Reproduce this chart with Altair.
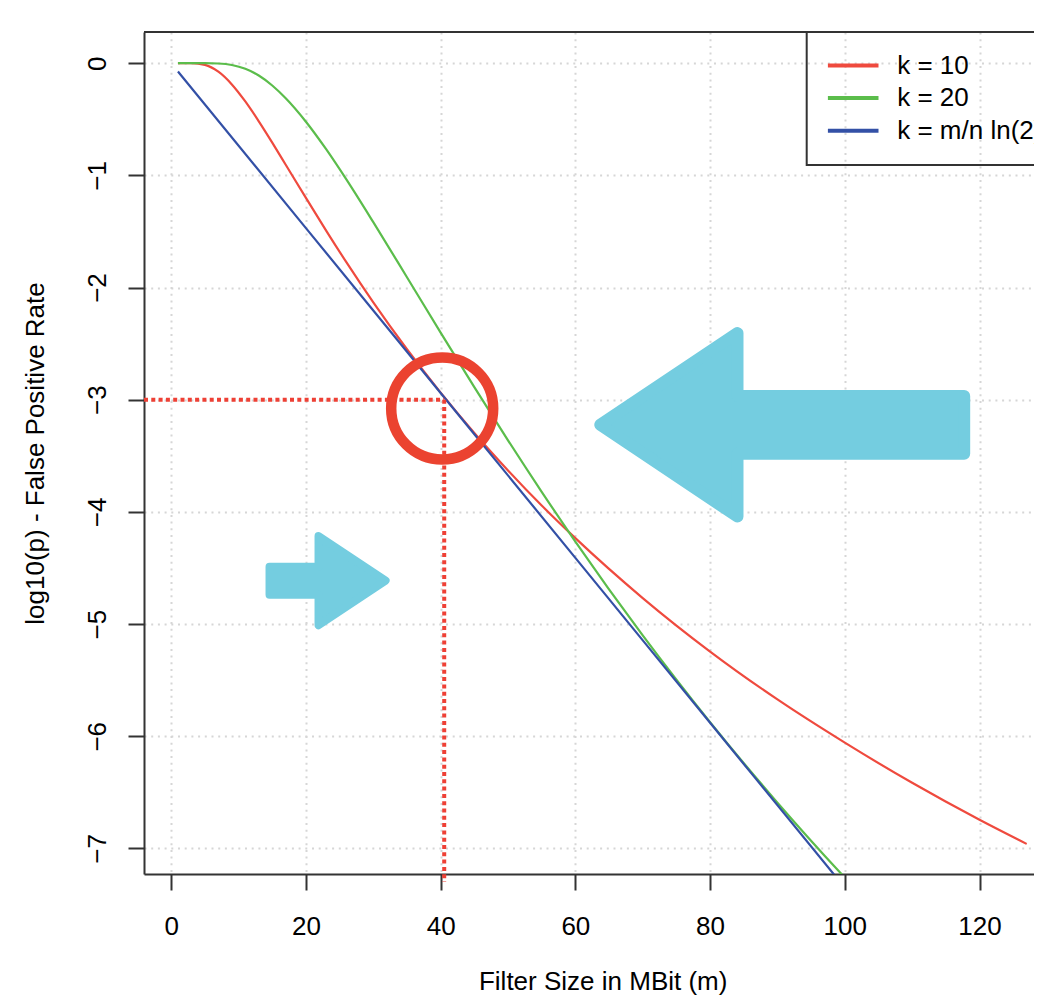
import altair as alt
import numpy as np
import pandas as pd

# ---------------- data ----------------
series_names = ["k = 10", "k = 20", "k = m/n ln(2)"]
series_colors = ["#EF4A3E", "#5BBD4B", "#3350A6"]

red_x = [1, 3, 5, 7, 9, 11, 13, 15, 17, 20, 23, 26, 30, 35, 40, 45, 50, 55, 60, 70, 80, 90, 100, 110, 120, 127]
red_y = [0.0, -0.0003, -0.015, -0.076, -0.189, -0.341, -0.518, -0.708, -0.905, -1.201, -1.492, -1.774,
         -2.132, -2.550, -2.937, -3.296, -3.630, -3.943, -4.234, -4.768, -5.245, -5.672, -6.057, -6.415,
         -6.745, -6.960]

green_x = [1, 3, 5, 7, 9, 11, 13, 15, 17, 20, 23, 26, 30, 35, 40, 45, 50, 55, 60, 70, 80, 90, 100, 105]
green_y = [0.0, 0.0, -0.0001, -0.003, -0.016, -0.050, -0.110, -0.199, -0.313, -0.522, -0.767, -1.036,
           -1.417, -1.908, -2.402, -2.888, -3.362, -3.821, -4.264, -5.100, -5.874, -6.592, -7.260, -7.578]

blue_x = [1, 20, 40, 60, 80, 100, 105]
blue_y = [-0.074, -1.470, -2.940, -4.410, -5.880, -7.350, -7.718]

x_ticks = [0, 20, 40, 60, 80, 100, 120]
y_ticks = [0, -1, -2, -3, -4, -5, -6, -7]
x_domain = [-4.04, 128.09]
y_domain = [-7.228, 0.278]

# annotation (data units)
marker_x, marker_y = 40.53, -3.0
marker_bottom = -7.30
circle_x, circle_y = 40.23, -3.078
big_arrow_x, big_arrow_y = 90.35, -3.224
small_arrow_x, small_arrow_y = 23.46, -4.613

# ---------------- styles ----------------
FONT = "Liberation Sans"
W, H = 890, 842
AXIS_COL = "#333333"
RED_MARK = "#EE4035"
CIRCLE_COL = "#EB4330"
ARROW_COL = "#74CDE0"


def inset_polygon(pts, d):
    pts = np.array(pts, float)
    n = len(pts)
    area = 0.5 * np.sum(pts[:, 0] * np.roll(pts[:, 1], -1) - np.roll(pts[:, 0], -1) * pts[:, 1])
    sign = 1.0 if area > 0 else -1.0
    lines = []
    for i in range(n):
        p, q = pts[i], pts[(i + 1) % n]
        t = (q - p) / np.linalg.norm(q - p)
        nrm = np.array([-t[1], t[0]]) * sign
        lines.append((p + nrm * d, t))
    out = []
    for i in range(n):
        p1, t1 = lines[i - 1]
        p2, t2 = lines[i]
        A = np.array([t1, -t2]).T
        a, _ = np.linalg.solve(A, p2 - p1)
        out.append(p1 + a * t1)
    return out


def to_path(pts):
    return "M" + " L".join(f"{p[0]:.2f},{p[1]:.2f}" for p in pts) + " Z"


big_arrow = [(-190.3, 0), (-36.3, -103), (-36.3, -34.8), (190.4, -34.8),
             (190.4, 34.8), (-36.3, 34.8), (-36.3, 103)]
small_arrow = [(63.6, 0), (-14.7, 52), (-14.7, 18), (-63.7, 18),
               (-63.7, -18), (-14.7, -18), (-14.7, -52)]
BIG_R, SMALL_R = 6, 4
big_path = to_path(inset_polygon(big_arrow, BIG_R))
small_path = to_path(inset_polygon(small_arrow, SMALL_R))

# legend line symbol: 50px long line drawn with a small symbol size (scale = sqrt(484)/2 = 11)
legend_symbol = "M-2.3,0 L2.3,0"

# ---------------- tables ----------------
lines_df = pd.concat([
    pd.DataFrame({"x": red_x, "y": red_y, "series": series_names[0]}),
    pd.DataFrame({"x": green_x, "y": green_y, "series": series_names[1]}),
    pd.DataFrame({"x": blue_x, "y": blue_y, "series": series_names[2]}),
], ignore_index=True)

xs = alt.Scale(domain=x_domain, nice=False, zero=False)
ys = alt.Scale(domain=y_domain, nice=False, zero=False)

x_axis = alt.Axis(
    values=x_ticks, format="d", grid=True, gridDash=[2, 4.7], gridColor="#D6D6D6", gridWidth=2,
    domainColor=AXIS_COL, domainWidth=2, tickColor=AXIS_COL, tickWidth=2, tickSize=16,
    labelFont=FONT, labelFontSize=26, labelColor="black", labelBaseline="alphabetic",
    labelPadding=44, labelFlush=False, labelOverlap=False,
    title="Filter Size in MBit (m)", titleFont=FONT, titleFontSize=26, titleFontWeight="normal",
    titleColor="black", titleX=458.7, titleY=115, titleBaseline="alphabetic", titleAlign="center",
)
y_axis = alt.Axis(
    values=y_ticks, format="d", grid=True, gridDash=[2, 4.7], gridColor="#D6D6D6", gridWidth=2,
    domainColor=AXIS_COL, domainWidth=2, tickColor=AXIS_COL, tickWidth=2, tickSize=16,
    labelFont=FONT, labelFontSize=26, labelColor="black", labelAngle=270, labelAlign="center",
    labelBaseline="alphabetic", labelPadding=23, labelFlush=False, labelOverlap=False,
    title="log10(p) - False Positive Rate", titleFont=FONT, titleFontSize=26,
    titleFontWeight="normal", titleColor="black", titleAngle=270, titleX=-100.7, titleY=421,
    titleBaseline="alphabetic", titleAlign="center",
)

legend = alt.Legend(
    title=None, orient="none", legendX=662.7, legendY=0, padding=20.5, rowPadding=6.6,
    strokeColor=AXIS_COL, symbolType=legend_symbol, symbolSize=484, symbolOffset=13,
    symbolStrokeWidth=4, labelFont=FONT, labelFontSize=26, labelColor="black",
    labelOffset=31, labelLimit=400,
)

curves = alt.Chart(lines_df).mark_line(strokeWidth=2.2, clip=True, interpolate="monotone").encode(
    x=alt.X("x:Q", scale=xs, axis=x_axis),
    y=alt.Y("y:Q", scale=ys, axis=y_axis),
    color=alt.Color("series:N", scale=alt.Scale(domain=series_names, range=series_colors), legend=legend),
    order=alt.Order("x:Q"),
)

h_df = pd.DataFrame({"x": [x_domain[0]], "x2": [marker_x], "y": [marker_y]})
v_df = pd.DataFrame({"x": [marker_x], "y": [marker_y], "y2": [marker_bottom]})

h_line = alt.Chart(h_df).mark_rule(color=RED_MARK, strokeWidth=4, strokeDash=[4, 3.3]).encode(
    x=alt.X("x:Q", scale=xs), x2="x2:Q", y=alt.Y("y:Q", scale=ys))
v_line = alt.Chart(v_df).mark_rule(color=RED_MARK, strokeWidth=4, strokeDash=[4, 3.3], clip=False).encode(
    x=alt.X("x:Q", scale=xs), y=alt.Y("y:Q", scale=ys), y2="y2:Q")

circ_df = pd.DataFrame({"x": [circle_x], "y": [circle_y]})
circle = alt.Chart(circ_df).mark_point(
    shape="circle", filled=False, size=10404, strokeWidth=10.5, color=CIRCLE_COL, opacity=1
).encode(x=alt.X("x:Q", scale=xs), y=alt.Y("y:Q", scale=ys))

big_df = pd.DataFrame({"x": [big_arrow_x], "y": [big_arrow_y]})
small_df = pd.DataFrame({"x": [small_arrow_x], "y": [small_arrow_y]})
big = alt.Chart(big_df).mark_point(
    shape=big_path, size=4, filled=True, fill=ARROW_COL, stroke=ARROW_COL, strokeWidth=2 * BIG_R,
    strokeJoin="round", opacity=1, fillOpacity=1, strokeOpacity=1
).encode(x=alt.X("x:Q", scale=xs), y=alt.Y("y:Q", scale=ys))
small = alt.Chart(small_df).mark_point(
    shape=small_path, size=4, filled=True, fill=ARROW_COL, stroke=ARROW_COL, strokeWidth=2 * SMALL_R,
    strokeJoin="round", opacity=1, fillOpacity=1, strokeOpacity=1
).encode(x=alt.X("x:Q", scale=xs), y=alt.Y("y:Q", scale=ys))

top_border = alt.Chart(h_df).mark_rule(color=AXIS_COL, strokeWidth=2).encode(
    x=alt.value(0), x2=alt.value(W), y=alt.value(0))

chart = alt.layer(curves, h_line, v_line, top_border, circle, big, small).properties(
    width=W, height=H,
    autosize=alt.AutoSizeParams(type="none"),
    padding={"left": 136, "top": 24, "right": 0, "bottom": 122},
    background="white",
).configure_view(strokeWidth=0).configure_legend(strokeWidth=2)

chart.save("out.html", embed_options={"renderer": "svg", "actions": False})
